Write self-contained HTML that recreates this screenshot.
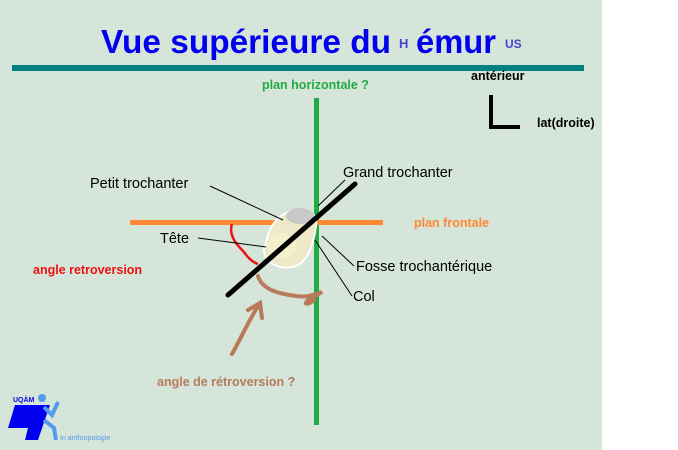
<!DOCTYPE html>
<html><head><meta charset="utf-8"><style>
html,body{margin:0;padding:0;width:678px;height:450px;overflow:hidden;background:#fff}
svg{display:block}
</style></head><body>
<svg width="678" height="450" xmlns="http://www.w3.org/2000/svg" font-family="Liberation Sans, sans-serif">
<rect x="0" y="0" width="602" height="450" fill="#d5e5d9"/>
<text x="101" y="53" font-size="33" font-weight="bold" fill="#0000ee" textLength="290" lengthAdjust="spacingAndGlyphs">Vue supérieure du</text>
<text x="399" y="48" font-size="13" font-weight="bold" fill="#4444cc">H</text>
<text x="416" y="53" font-size="33" font-weight="bold" fill="#0000ee" textLength="80" lengthAdjust="spacingAndGlyphs">émur</text>
<text x="505" y="48" font-size="12" font-weight="bold" fill="#4444cc">US</text>
<rect x="12" y="65" width="572" height="6" fill="#008080"/>
<text x="262" y="89" font-size="12.5" font-weight="bold" fill="#22aa44">plan horizontale ?</text>
<text x="471" y="80" font-size="12.5" font-weight="bold" fill="#000">antérieur</text>
<path d="M491 95 V127 H520" stroke="#000" stroke-width="4" fill="none"/>
<text x="537" y="127" font-size="12.5" font-weight="bold" fill="#000">lat(droite)</text>
<rect x="314" y="98" width="5" height="327" fill="#22aa44"/>
<rect x="130" y="220" width="253" height="5" fill="#ff8833"/>
<text x="414" y="227" font-size="12.5" font-weight="bold" fill="#ff8833">plan frontale</text>
<path d="M268 235 C272 222 282 212 296 210 C308 207 318 214 316 226 C314 240 310 258 298 265 C284 272 264 264 264 250 Z" fill="#ece8c8" stroke="#ffffff" stroke-width="2"/>
<ellipse cx="300" cy="216" rx="14" ry="8" fill="#c8c8c8"/>
<ellipse cx="282" cy="246" rx="15" ry="13" fill="#f4f0cc"/>
<line x1="228" y1="295" x2="355" y2="184" stroke="#000" stroke-width="5" stroke-linecap="round"/>
<path d="M232 224 C228 236 238 246 244 252 C248 258 252 262 258 264" stroke="#ee1111" stroke-width="2.5" fill="none"/>
<path d="M258 276 C262 290 280 294 296 296 C308 298 315 294 322 292 L308 300 C302 306 310 304 314 300" stroke="#b87a5a" stroke-width="4" fill="none" stroke-linecap="round"/>
<path d="M232 354 C240 340 250 318 260 303 M248 310 L260 303 L262 318" stroke="#b87a5a" stroke-width="4" fill="none" stroke-linecap="round"/>
<g font-size="14.5" fill="#000">
<text x="90" y="188">Petit trochanter</text>
<text x="343" y="177">Grand trochanter</text>
<text x="160" y="243">Tête</text>
<text x="356" y="271">Fosse trochantérique</text>
<text x="353" y="301">Col</text>
</g>
<g stroke="#000" stroke-width="1" fill="none">
<line x1="210" y1="186" x2="283" y2="220"/>
<line x1="345" y1="180" x2="318" y2="206"/>
<line x1="198" y1="238" x2="266" y2="247"/>
<line x1="354" y1="266" x2="322" y2="236"/>
<line x1="352" y1="296" x2="315" y2="240"/>
</g>
<text x="33" y="274" font-size="12.5" font-weight="bold" fill="#ee1111">angle  retroversion</text>
<text x="157" y="386" font-size="12.5" font-weight="bold" fill="#b87a5a">angle de rétroversion ?</text>
<text x="13" y="402" font-size="7" font-weight="bold" fill="#0000ee">UQÀM</text>
<polygon points="15,405 50,405 38,440 25,440 28,428 8,428" fill="#0000ee"/>
<circle cx="42" cy="398" r="4" fill="#5599ee"/>
<path d="M44 407 L52 415 L58 402 M44 420 L54 428 L56 440" stroke="#5599ee" stroke-width="4" fill="none"/>
<text x="60" y="440" font-size="7" fill="#5599ee">In anthropologie</text>
</svg>
</body></html>
